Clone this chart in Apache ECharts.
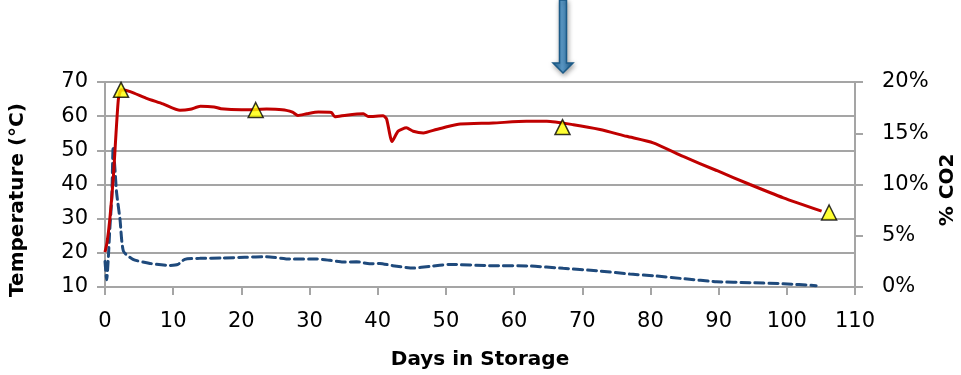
<!DOCTYPE html>
<html>
<head>
<meta charset="utf-8">
<script src="https://cdn.jsdelivr.net/npm/echarts@6/dist/echarts.min.js"></script>
<style>
  html, body { margin: 0; padding: 0; background: #fff; }
  #chart { width: 961px; height: 375px; }
</style>
</head>
<body>
<div id="chart"></div>
<script>
// Compost temperature and CO2 readings over storage time
const tempDays = [0, 0.3, 0.7, 1.2, 1.95, 2.4, 3.7, 6, 8.5, 11, 12.5, 14, 16, 17, 20, 22, 23.7, 25, 26.6, 27.5, 28.3, 29.6, 31.3, 33.2, 33.7, 35.4, 37.9, 38.6, 40.8, 41.3, 42.1, 43.0, 44.2, 45.2, 46.7, 48.6, 50.3, 52.1, 56.9, 61.8, 64.8, 68.7, 72.6, 76.5, 80.4, 84.8, 89.7, 94.6, 99.5, 105.1];
const tempValues = [20.2, 23, 29.7, 41.4, 64.8, 67.7, 67.2, 65.3, 63.6, 61.7, 62.0, 62.9, 62.7, 62.2, 61.9, 61.9, 62.1, 62.0, 61.7, 61.2, 60.2, 60.7, 61.2, 61.1, 59.8, 60.3, 60.7, 59.9, 60.1, 59.2, 52.6, 55.6, 56.6, 55.6, 55.1, 56.1, 57.0, 57.7, 58.0, 58.5, 58.5, 57.5, 56.1, 54.1, 52.2, 48.2, 44.1, 40.0, 36.1, 32.2];

const co2Days = [0, 0.25, 0.5, 0.7, 1.0, 1.2, 1.47, 1.7, 2.2, 2.7, 4.1, 6.6, 9.5, 10.7, 11.7, 13.9, 17.3, 20.5, 23.7, 27.1, 31.0, 33.0, 34.9, 36.9, 38.8, 40.3, 42.2, 45.2, 47.6, 50.6, 56.4, 62.3, 67.2, 72.1, 77.0, 80.4, 85, 89.7, 94.6, 99.5, 104.3];
const co2Percent = [2.5, 0.7, 3.0, 5.6, 8.8, 13.7, 11.4, 9.2, 6.6, 3.5, 2.7, 2.3, 2.1, 2.2, 2.7, 2.8, 2.83, 2.9, 2.96, 2.73, 2.73, 2.6, 2.44, 2.46, 2.27, 2.3, 2.08, 1.85, 2.01, 2.2, 2.08, 2.05, 1.82, 1.59, 1.26, 1.1, 0.8, 0.52, 0.42, 0.32, 0.13];

const sampleDays = [2.35, 22.1, 67.1, 106.2];
const sampleTemps = [67.7, 61.8, 56.8, 31.8];

const xTicks = { min: 0, max: 110, interval: 10 };
const tempTicks = { min: 10, max: 70, interval: 10 };
const co2Ticks = { min: 0, max: 20, interval: 5 };

const zip = (xs, ys) => xs.map((x, i) => [x, ys[i]]);

const FONT = 'DejaVu Sans';
const gridColor = '#a5a5a5';
const labelSize = 21;

const chart = echarts.init(document.getElementById('chart'), null, { renderer: 'canvas' });

chart.setOption({
  animation: false,
  backgroundColor: '#ffffff',
  grid: { left: 105, right: 106, top: 82, bottom: 88, containLabel: false },
  xAxis: {
    type: 'value',
    min: xTicks.min, max: xTicks.max, interval: xTicks.interval,
    axisLine: { show: true, lineStyle: { color: gridColor, width: 2 } },
    axisTick: { show: true, length: 8, inside: false, lineStyle: { color: gridColor, width: 2 } },
    splitLine: { show: false },
    axisLabel: { color: '#000', fontFamily: FONT, fontSize: labelSize, margin: 24 }
  },
  yAxis: [
    {
      type: 'value',
      min: tempTicks.min, max: tempTicks.max, interval: tempTicks.interval,
      axisLine: { show: true, lineStyle: { color: gridColor, width: 2 } },
      axisTick: { show: true, length: 8, lineStyle: { color: gridColor, width: 2 } },
      splitLine: { show: true, lineStyle: { color: gridColor, width: 2 } },
      axisLabel: { color: '#000', fontFamily: FONT, fontSize: labelSize, margin: 17 }
    },
    {
      type: 'value',
      position: 'right',
      min: co2Ticks.min, max: co2Ticks.max, interval: co2Ticks.interval,
      axisLine: { show: true, lineStyle: { color: gridColor, width: 2 } },
      axisTick: { show: true, length: 8, lineStyle: { color: gridColor, width: 2 } },
      splitLine: { show: false },
      axisLabel: { color: '#000', fontFamily: FONT, fontSize: labelSize, margin: 27, formatter: '{value}%' }
    }
  ],
  series: [
    {
      name: 'Temperature',
      type: 'line',
      yAxisIndex: 0,
      data: zip(tempDays, tempValues),
      smooth: 0.2,
      showSymbol: false,
      lineStyle: { color: '#c00000', width: 3 },
      z: 3
    },
    {
      name: 'CO2',
      type: 'line',
      yAxisIndex: 1,
      data: zip(co2Days, co2Percent),
      smooth: 0.2,
      showSymbol: false,
      lineStyle: { color: '#1f4a7c', width: 3, type: [9, 5], cap: 'round' },
      z: 2
    },
    {
      name: 'Samples',
      type: 'scatter',
      yAxisIndex: 0,
      data: zip(sampleDays, sampleTemps),
      symbol: 'triangle',
      symbolSize: [15, 15],
      clip: false,
      itemStyle: { color: '#ffff00', borderColor: '#000', borderWidth: 1.5 },
      z: 5
    }
  ],
  graphic: [
    {
      type: 'text',
      x: 480, y: 360,
      style: { text: 'Days in Storage', fontFamily: FONT, fontWeight: 'bold', fontSize: 20, fill: '#000', align: 'center', verticalAlign: 'middle' }
    },
    {
      type: 'text',
      x: 18, y: 200, rotation: Math.PI / 2,
      style: { text: 'Temperature (°C)', fontFamily: FONT, fontWeight: 'bold', fontSize: 20, fill: '#000', align: 'center', verticalAlign: 'middle' }
    },
    {
      type: 'text',
      x: 948, y: 190, rotation: Math.PI / 2,
      style: { text: '% CO2', fontFamily: FONT, fontWeight: 'bold', fontSize: 20, fill: '#000', align: 'center', verticalAlign: 'middle' }
    },
    {
      // downward marker arrow above the plot
      type: 'group',
      x: 554, y: 0,
      children: [
        {
          type: 'polygon',
          shape: { points: [[5.5, 0], [12.5, 0], [12.5, 63], [19, 63], [9, 73], [-1, 63], [5.5, 63]] },
          style: {
            fill: new echarts.graphic.LinearGradient(0, 0, 1, 0, [
              { offset: 0, color: '#2a6f9f' },
              { offset: 0.45, color: '#5e9fcf' },
              { offset: 1, color: '#1d5b8a' }
            ]),
            stroke: '#1b5a87',
            lineWidth: 1.5,
            shadowBlur: 5,
            shadowColor: 'rgba(0,0,0,0.35)',
            shadowOffsetX: 1,
            shadowOffsetY: 2
          }
        }
      ]
    }
  ]
});
</script>
</body>
</html>
